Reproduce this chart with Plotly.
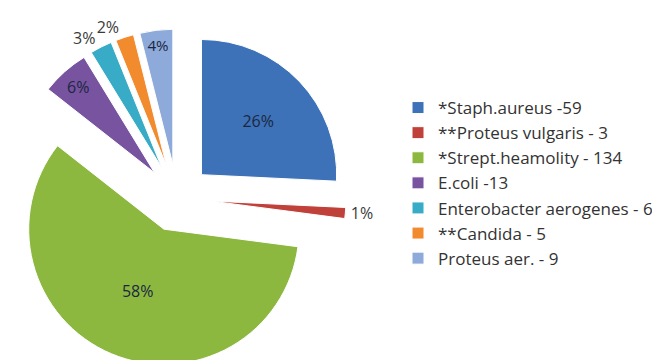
import plotly.graph_objects as go

labels = ["*Staph.aureus -59", "**Proteus vulgaris - 3", "*Strept.heamolity - 134",
          "E.coli -13", "Enterobacter aerogenes - 6", "**Candida - 5", "Proteus aer. - 9"]
values = [59, 3, 134, 13, 6, 5, 9]
pct_text = ["26%", "1%", "58%", "6%", "3%", "2%", "4%"]
colors = ["#3E72B8", "#C0403A", "#8DB840", "#7853A0", "#38ABC6", "#F28A2E", "#8EAADA"]
text_pos = ["inside", "outside", "inside", "inside", "outside", "outside", "inside"]
pulls = [0.25, 0.25, 0.25, 0.25, 0.25, 0.25, 0.25]
# labels drawn by a second, transparent copy of the pie so that plotly does not
# push them apart with connector lines
overlay_idx = [5]

dom = dict(x=[0, 338 / 660], y=[0, 1 - 20 / 360])
main_text = [t if i not in overlay_idx else "" for i, t in enumerate(pct_text)]
over_text = [t if i in overlay_idx else "" for i, t in enumerate(pct_text)]

common = dict(
    labels=labels, values=values, textinfo="text", textposition=text_pos,
    insidetextorientation="horizontal", sort=False, direction="clockwise",
    rotation=0, pull=pulls, domain=dom,
    textfont=dict(family="Open Sans", size=16, color="#1B2740"),
    outsidetextfont=dict(family="Open Sans", size=16, color="#3A3A3A"),
)

fig = go.Figure()
fig.add_trace(go.Pie(
    text=main_text,
    marker=dict(colors=colors, line=dict(color="white", width=1)),
    **common,
))
fig.add_trace(go.Pie(
    text=over_text,
    marker=dict(colors=["rgba(0,0,0,0)"] * len(values), line=dict(width=0)),
    showlegend=False, hoverinfo="skip",
    **common,
))

fig.update_layout(
    width=660, height=360,
    margin=dict(l=0, r=0, t=0, b=0, autoexpand=False),
    paper_bgcolor="white",
    showlegend=True,
    legend=dict(x=390 / 660, y=1 - 82 / 360, xanchor="left", yanchor="top",
                font=dict(family="Open Sans", size=17, color="#333333"),
                itemwidth=30, bgcolor="rgba(0,0,0,0)"),
)

fig.write_html("out.html")
